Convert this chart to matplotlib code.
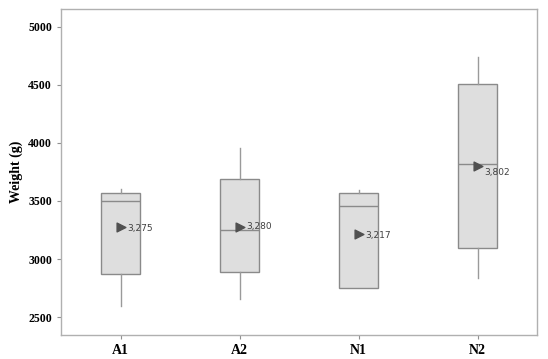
import matplotlib.pyplot as plt

# groups and box statistics (g)
groups = ["A1", "A2", "N1", "N2"]
whisk_lo = [2598, 2655, 2747, 2834]
q1 = [2868, 2885, 2747, 3097]
median = [3503, 3247, 3454, 3819]
q3 = [3566, 3692, 3572, 4506]
whisk_hi = [3603, 3959, 3592, 4739]
means = [3275, 3280, 3217, 3802]

stats = []
for i, g in enumerate(groups):
    stats.append({"label": g, "whislo": whisk_lo[i], "q1": q1[i], "med": median[i],
                  "q3": q3[i], "whishi": whisk_hi[i], "mean": means[i], "fliers": []})

fig = plt.figure(figsize=(5.48, 3.59), dpi=100)
ax = fig.add_axes([0.1113, 0.0669, 0.869, 0.908])

edge = "#8a8a8a"
positions = list(range(len(groups)))
ax.bxp(stats, positions=positions, widths=0.33, patch_artist=True, showcaps=False,
       showmeans=False,
       boxprops=dict(facecolor="#dedede", edgecolor=edge, linewidth=1.0),
       medianprops=dict(color=edge, linewidth=1.0),
       whiskerprops=dict(color="#9a9a9a", linewidth=1.0))

ax.scatter(positions, means, marker=">", s=40, color="#505050", zorder=5)
offsets = [(5, -1), (5, 0), (5, -1), (5, -5)]
for x, m, off in zip(positions, means, offsets):
    ax.annotate(f"{m:,}", (x, m), xytext=off, textcoords="offset points",
                ha="left", va="center", fontsize=6.5, color="#404040",
                family="DejaVu Sans")

ax.set_xlim(-0.5, 3.5)
ax.set_ylim(2345, 5155)
ax.set_yticks([2500, 3000, 3500, 4000, 4500, 5000])
ax.set_xticks(positions)
ax.set_xticklabels(groups)

for lab in ax.get_yticklabels():
    lab.set_fontfamily("Liberation Serif")
    lab.set_fontweight("bold")
    lab.set_fontsize(8.5)
for lab in ax.get_xticklabels():
    lab.set_fontfamily("Liberation Serif")
    lab.set_fontweight("bold")
    lab.set_fontsize(10)

ax.set_ylabel("Weight (g)", fontfamily="Liberation Serif", fontweight="bold", fontsize=10)

for s in ax.spines.values():
    s.set_color("#b0b0b0")
    s.set_linewidth(1.0)
ax.tick_params(axis="both", color="#909090", length=3, width=0.8)

plt.savefig("out.png")
plt.close()
